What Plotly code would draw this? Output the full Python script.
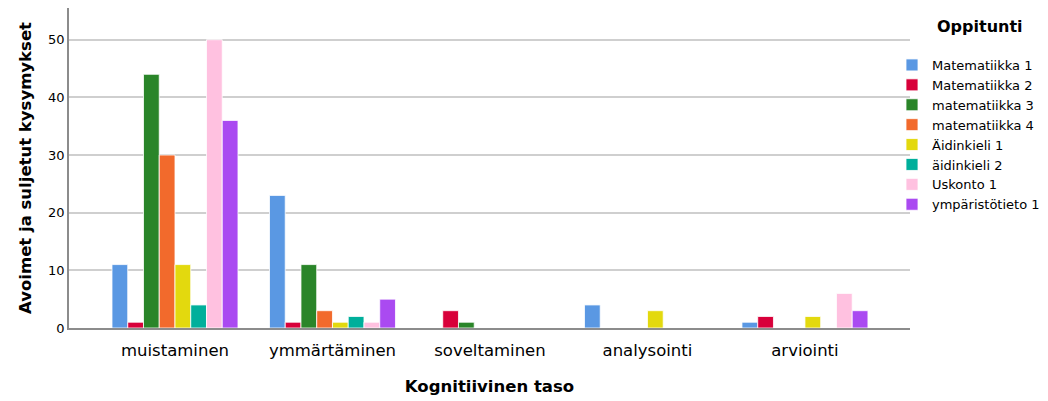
import plotly.graph_objects as go

categories = ["muistaminen", "ymmärtäminen", "soveltaminen", "analysointi", "arviointi"]
series_names = ["Matematiikka 1", "Matematiikka 2", "matematiikka 3", "matematiikka 4",
                "Äidinkieli 1", "äidinkieli 2", "Uskonto 1", "ympäristötieto 1"]
matematiikka_1 = [11, 23, 0, 4, 1]
matematiikka_2 = [1, 1, 3, 0, 2]
matematiikka_3 = [44, 11, 1, 0, 0]
matematiikka_4 = [30, 3, 0, 0, 0]
aidinkieli_1 = [11, 1, 0, 3, 2]
aidinkieli_2 = [4, 2, 0, 0, 0]
uskonto_1 = [50, 1, 0, 0, 6]
ymparistotieto_1 = [36, 5, 0, 0, 3]
series_values = [matematiikka_1, matematiikka_2, matematiikka_3, matematiikka_4,
                 aidinkieli_1, aidinkieli_2, uskonto_1, ymparistotieto_1]
colors = ["#5A98E3", "#D8003A", "#2A8529", "#F26A2C", "#E3D90E", "#00AF9B", "#FFC1E0", "#AA4AF1"]

FONT = "DejaVu Sans, Verdana, sans-serif"

# figure is drawn inside the page's 8px body margin
W, H = 1040, 393
L, R, T, B = 61, 138, 0, 73
PW, PH = W - L - R, H - T - B

fig = go.Figure()
for name, vals, col in zip(series_names, series_values, colors):
    fig.add_trace(go.Bar(
        x=categories, y=vals, name=name,
        marker=dict(color=col, line=dict(color="white", width=0.8)),
    ))

fig.add_annotation(
    text="<b>Oppitunti</b>", xref="paper", yref="paper",
    x=(972 - L) / PW, y=(PH - 18) / PH, xanchor="center", yanchor="middle",
    showarrow=False, font=dict(size=16, family=FONT, color="#000000"),
)

fig.update_layout(
    width=W, height=H,
    margin=dict(l=L, r=R, t=T, b=B, autoexpand=False),
    paper_bgcolor="white", plot_bgcolor="white",
    barmode="group", bargap=0.2, bargroupgap=0.0,
    font=dict(family=FONT, color="#000000"),
    showlegend=True,
    legend=dict(
        x=(884 - L) / PW, y=(PH - 42) / PH, xanchor="left", yanchor="top",
        font=dict(size=13, family=FONT),
        tracegroupgap=0, itemwidth=30,
        bgcolor="rgba(0,0,0,0)",
    ),
    xaxis=dict(
        range=[-0.673, 4.667], automargin=False,
        showline=True, linecolor="#8c8c8c", linewidth=1.5,
        ticks="", ticklabelstandoff=6, tickfont=dict(size=16.5, family=FONT),
        title=dict(text="<b>Kognitiivinen taso</b>", font=dict(size=16.5, family=FONT), standoff=22),
        showgrid=False,
    ),
    yaxis=dict(
        range=[0, 55.5], dtick=10, automargin=False,
        showline=True, linecolor="#8c8c8c", linewidth=1.5,
        showgrid=True, gridcolor="#cfcfcf", gridwidth=1.5,
        zeroline=False,
        ticks="", ticklabelstandoff=0,
        tickfont=dict(size=13, family=FONT),
        title=dict(text="<b>Avoimet ja suljetut kysymykset</b>", font=dict(size=16.5, family=FONT), standoff=12),
    ),
)

fig.write_html("out.html")
